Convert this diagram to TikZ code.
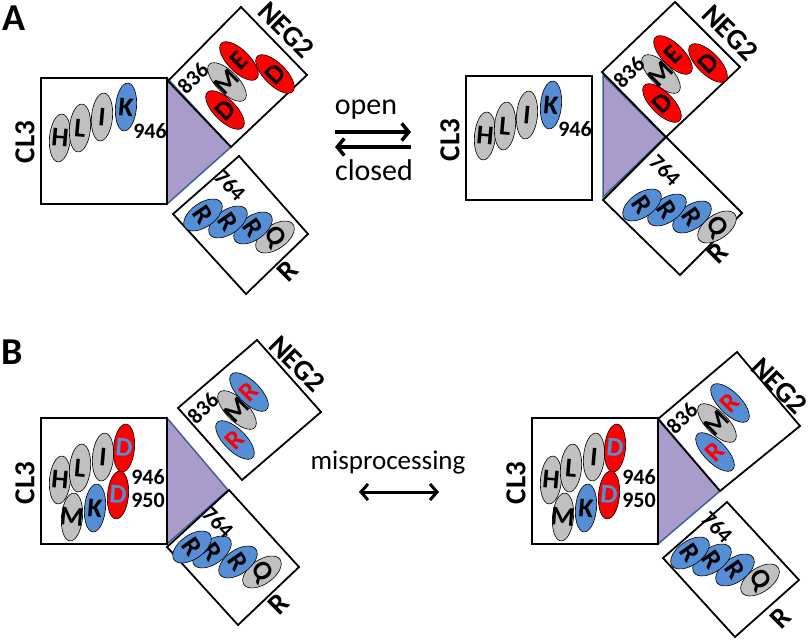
\documentclass[tikz,border=0pt]{standalone}
\usepackage{fontspec}
\setmainfont{Carlito}
\usetikzlibrary{arrows.meta,shapes.geometric}
\definecolor{resgray}{HTML}{C0C0C0}
\definecolor{resblue}{HTML}{558ED5}
\definecolor{resred}{HTML}{FF0000}
\definecolor{cleftfill}{HTML}{A99CCB}
\definecolor{cleftedge}{HTML}{41628E}
\newcommand{\resfont}{\fontsize{27}{27}\selectfont\bfseries}
\newcommand{\numfont}{\fontsize{22}{22}\selectfont\bfseries}
\newcommand{\domfont}{\fontsize{29}{29}\selectfont\bfseries}
\newcommand{\capfont}{\fontsize{30}{30}\selectfont}
\tikzset{
  res/.style={ellipse, draw=black, line width=0.6pt, inner sep=-8pt, minimum width=21pt, minimum height=48pt, font=\resfont},
  grayres/.style={res, fill=resgray},
  blueres/.style={res, fill=resblue},
  redres/.style={res, fill=resred},
  longres/.style={minimum width=22pt, minimum height=50pt},
  shortres/.style={minimum width=24pt, minimum height=44pt},
  numtext/.style={font=\numfont, inner sep=0pt},
  domtext/.style={font=\domfont, inner sep=0pt},
  captext/.style={font=\capfont, inner sep=0pt},
  paneltext/.style={font=\fontsize{38}{38}\selectfont\bfseries, inner sep=0pt},
  dombox/.style={draw=black, line width=1.8pt, line join=miter},
  cleft/.style={fill=cleftfill, draw=cleftedge, line width=1.5pt},
  eqarrow/.style={line width=3.5pt, -{Straight Barb[length=7pt,width=17pt]}},
  twoway/.style={line width=3pt, {Straight Barb[length=7pt,width=16pt]}-{Straight Barb[length=7pt,width=16pt]}},
}
\begin{document}
\begin{tikzpicture}[x=1pt, y=-1pt]
\useasboundingbox (0,0) rectangle (812,640);

% ---- A, left
\node[paneltext] (labA) at (14,18) {A};
\filldraw[cleft] (167,78) -- (167,204) -- (231,147) -- cycle;
\draw[dombox] (41,78) rectangle (167,204);
\draw[dombox] (168,81) -- (241,7) -- (307,75) -- (231,147) -- cycle;
\draw[dombox] (239,156) -- (308,234) -- (246,294) -- (173,214) -- cycle;
\node[domtext, rotate=90] (aCL) at (25,142) {CL3};
\node[grayres, rotate=-5] (aH) at (60,138) {H};
\node[grayres, rotate=-5] (aL) at (80,128) {L};
\node[grayres, rotate=-5] (aI) at (102,117) {I};
\node[blueres, rotate=-5] (aK) at (126,107) {K};
\node[numtext] (a946) at (150,131) {946};
\node[grayres, longres, rotate=45] (aM) at (227,82) {M};
\node[redres, longres, rotate=45] (aD1) at (225,110) {D};
\node[redres, longres, rotate=45] (aE) at (239,61) {E};
\node[redres, longres, rotate=45] (aD2) at (275,74) {D};
\node[numtext, rotate=45] (a836) at (193,78) {836};
\node[domtext, rotate=-45] (aNEG) at (286,30) {NEG2};
\node[grayres, shortres, rotate=-55] (aQ) at (275,237) {Q};
\node[blueres, shortres, rotate=-55] (aR3) at (253,228) {R};
\node[blueres, shortres, rotate=-55] (aR2) at (228,222) {R};
\node[blueres, shortres, rotate=-55] (aR1) at (203,215) {R};
\node[numtext, rotate=-45] (a764) at (230,185) {764};
\node[domtext, rotate=45] (aRlab) at (288,271) {R};

% ---- open / closed
\node[captext] (open) at (366,110) {open};
\node[captext] (closed) at (374,170) {closed};
\coordinate (op1) at (335,132);
\coordinate (op2) at (411,132);
\coordinate (cl1) at (411,147);
\coordinate (cl2) at (335,147);
\draw[eqarrow] (op1) -- (op2);
\draw[eqarrow] (cl1) -- (cl2);

% ---- A, right
\filldraw[cleft] (603,75) -- (603,197) -- (665,137) -- cycle;
\draw[dombox] (466,76) rectangle (592,200);
\draw[dombox] (602,72) -- (675,2) -- (740,67) -- (666,137) -- cycle;
\draw[dombox] (666,137) -- (742,213) -- (680,275) -- (603,200) -- cycle;
\node[domtext, rotate=90] (bCL) at (450,140) {CL3};
\node[grayres, rotate=-5] (bH) at (485,136) {H};
\node[grayres, rotate=-5] (bL) at (505,126) {L};
\node[grayres, rotate=-5] (bI) at (527,115) {I};
\node[blueres, rotate=-5] (bK) at (551,105) {K};
\node[numtext] (b946) at (575,129) {946};
\node[grayres, longres, rotate=45] (bM) at (661,74) {M};
\node[redres, longres, rotate=45] (bD1) at (662,103) {D};
\node[redres, longres, rotate=45] (bE) at (673,55) {E};
\node[redres, longres, rotate=45] (bD2) at (708,63) {D};
\node[numtext, rotate=45] (b836) at (629,72) {836};
\node[domtext, rotate=-45] (bNEG) at (730,33) {NEG2};
\node[grayres, shortres, rotate=-55] (bQ) at (717,227) {Q};
\node[blueres, shortres, rotate=-55] (bR3) at (692,217) {R};
\node[blueres, shortres, rotate=-55] (bR2) at (667,210) {R};
\node[blueres, shortres, rotate=-55] (bR1) at (642,205) {R};
\node[numtext, rotate=-45] (b764) at (665,170) {764};
\node[domtext, rotate=45] (bRlab) at (718,253) {R};

% ---- B, left
\node[paneltext] (labB) at (12,352) {B};
\filldraw[cleft] (167,418) -- (167,544) -- (228,490) -- cycle;
\draw[dombox] (41,418) rectangle (167,544);
\draw[dombox] (178,408) -- (257,340) -- (321,412) -- (242,480) -- cycle;
\draw[dombox] (229,490) -- (299,567) -- (238,625) -- (167,547) -- cycle;
\node[domtext, rotate=90] (cCL) at (25,483) {CL3};
\node[grayres, rotate=-5] (cH) at (60,480) {H};
\node[grayres, rotate=-5] (cL) at (80,468) {L};
\node[grayres, rotate=-5] (cI) at (103,457) {I};
\node[redres, rotate=-5, text=resblue] (cD1) at (124,448) {D};
\node[grayres, rotate=-5] (cM) at (72,517) {M};
\node[blueres, rotate=-5] (cK) at (95,508) {K};
\node[redres, rotate=-5, text=resblue] (cD2) at (118,495) {D};
\node[numtext] (c946) at (148,477) {946};
\node[numtext] (c950) at (148,500) {950};
\node[grayres, longres, rotate=45] (cM2) at (237,410) {M};
\node[blueres, longres, rotate=45, text=resred] (cR1) at (249,392) {R};
\node[blueres, longres, rotate=45, text=resred] (cR2) at (235,440) {R};
\node[numtext, rotate=45] (c836) at (203,408) {836};
\node[domtext, rotate=-45] (cNEG) at (297,364) {NEG2};
\node[grayres, shortres, rotate=-55] (cQ) at (262,572) {Q};
\node[blueres, shortres, rotate=-55] (cR5) at (238,562) {R};
\node[blueres, shortres, rotate=-55] (cR4) at (212,552) {R};
\node[blueres, shortres, rotate=-55] (cR3) at (192,547) {R};
\node[numtext, rotate=-45] (c764) at (218,522) {764};
\node[domtext, rotate=45] (cRlab) at (279,604) {R};

% ---- misprocessing
\node[captext, font=\fontsize{27}{27}\selectfont] (mis) at (388,463) {misprocessing};
\coordinate (mp1) at (359,492);
\coordinate (mp2) at (439,492);
\draw[twoway] (mp1) -- (mp2);

% ---- B, right
\filldraw[cleft] (658,418) -- (658,544) -- (720,491) -- cycle;
\draw[dombox] (532,418) rectangle (658,544);
\draw[dombox] (658,419) -- (737,352) -- (800,426) -- (720,491) -- cycle;
\draw[dombox] (727,502) -- (799,580) -- (735,637) -- (663,558) -- cycle;
\node[domtext, rotate=90] (dCL) at (516,483) {CL3};
\node[grayres, rotate=-5] (dH) at (551,480) {H};
\node[grayres, rotate=-5] (dL) at (571,468) {L};
\node[grayres, rotate=-5] (dI) at (594,457) {I};
\node[redres, rotate=-5, text=resblue] (dD1) at (615,448) {D};
\node[grayres, rotate=-5] (dM) at (563,517) {M};
\node[blueres, rotate=-5] (dK) at (586,508) {K};
\node[redres, rotate=-5, text=resblue] (dD2) at (609,495) {D};
\node[numtext] (d946) at (639,477) {946};
\node[numtext] (d950) at (639,500) {950};
\node[grayres, longres, rotate=45] (dM2) at (717,423) {M};
\node[blueres, longres, rotate=45, text=resred] (dR1) at (730,403) {R};
\node[blueres, longres, rotate=45, text=resred] (dR2) at (715,452) {R};
\node[numtext, rotate=45] (d836) at (682,418) {836};
\node[domtext, rotate=-45] (dNEG) at (779,386) {NEG2};
\node[grayres, shortres, rotate=-55] (dQ) at (760,580) {Q};
\node[blueres, shortres, rotate=-55] (dR5) at (735,570) {R};
\node[blueres, shortres, rotate=-55] (dR4) at (712,560) {R};
\node[blueres, shortres, rotate=-55] (dR3) at (690,553) {R};
\node[numtext, rotate=-45] (d764) at (717,527) {764};
\node[domtext, rotate=45] (dRlab) at (781,618) {R};
\end{tikzpicture}
\end{document}
